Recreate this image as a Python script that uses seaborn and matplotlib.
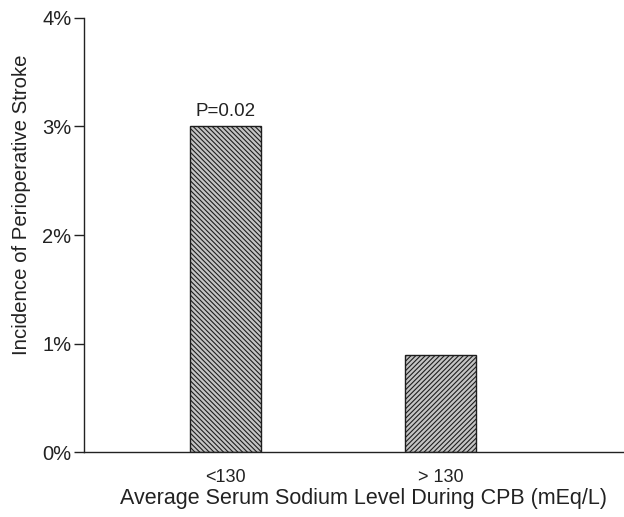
import matplotlib
matplotlib.use("Agg")
import matplotlib.pyplot as plt
import pandas as pd
import seaborn as sns

# values
groups = ["<130", "> 130"]
incidence = [3.0, 0.89]          # percent
hatches = ["\\" * 7, "/" * 7]
p_label = "P=0.02"

sns.set_theme(style="white")
plt.rcParams["font.family"] = ["Liberation Sans", "DejaVu Sans"]
plt.rcParams["hatch.linewidth"] = 0.8
plt.rcParams["hatch.color"] = "#1e1e1e"

df = pd.DataFrame({"group": groups, "incidence": incidence})

fig = plt.figure(figsize=(6.24, 5.17), dpi=100)
ax = fig.add_axes([0.1346, 0.1257, 0.8654, 0.8395])

sns.barplot(data=df, x="group", y="incidence", ax=ax, color="#c4c4c4",
            width=0.33, edgecolor="#1e1e1e", linewidth=1.0, saturation=1)
for bar, h in zip(ax.patches, hatches):
    bar.set_hatch(h)

ax.text(0, incidence[0] + 0.06, p_label, ha="center", va="bottom", fontsize=13.5, color="#222222")

ax.set_xlim(-0.658, 1.853)
ax.set_ylim(0, 4)
ax.set_yticks([0, 1, 2, 3, 4])
ax.set_yticklabels([f"{v}%" for v in range(5)])
ax.tick_params(axis="y", direction="out", length=7, width=1, color="#222222",
               labelsize=14.5, labelcolor="#222222", pad=2, left=True)
ax.tick_params(axis="x", length=0, labelsize=13, labelcolor="#222222", pad=12)

for s in ["top", "right"]:
    ax.spines[s].set_visible(False)
for s in ["left", "bottom"]:
    ax.spines[s].set_color("#222222")
    ax.spines[s].set_linewidth(1.0)

ax.set_xlabel("Average Serum Sodium Level During CPB (mEq/L)", fontsize=15.5, color="#222222")
ax.set_ylabel("Incidence of Perioperative Stroke", fontsize=14.7, color="#222222")
ax.xaxis.set_label_coords(0.518, -0.083)
ax.yaxis.set_label_coords(-0.099, 0.569)

fig.savefig("out.png", dpi=100)
